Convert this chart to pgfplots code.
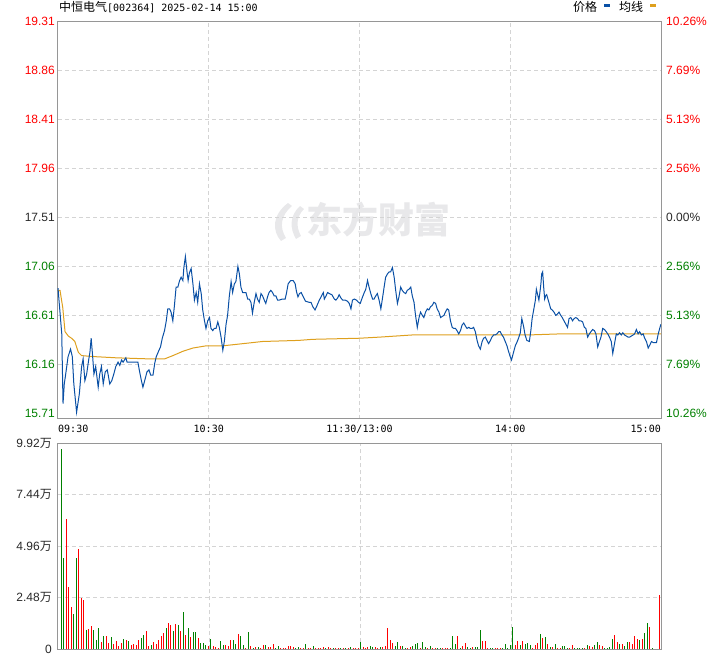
\documentclass[border=0pt]{standalone}
\usepackage{pgfplots}
\pgfplotsset{compat=1.18}
\usepackage{fontspec}
\setmainfont{Liberation Sans}
\newfontfamily\cjk{Noto Sans CJK SC}
\newfontfamily\mono{DejaVu Sans Mono}
\definecolor{pblue}{RGB}{10,80,165}
\definecolor{avgc}{RGB}{222,160,30}
\definecolor{upred}{RGB}{255,0,0}
\definecolor{dngreen}{RGB}{0,128,0}
\definecolor{axgray}{RGB}{150,150,150}
\definecolor{gridc}{RGB}{212,212,212}
\definecolor{wm}{RGB}{232,232,234}
\definecolor{lbl}{RGB}{40,40,40}
\begin{document}
\begin{tikzpicture}
\path[use as bounding box] (0pt,0pt) rectangle (720pt,655pt);
% watermark
\fill[wm] (288pt,452pt) .. controls (272pt,440pt) and (272pt,424pt) .. (281pt,414pt) -- (286pt,417pt) .. controls (279pt,428pt) and (281pt,440pt) .. (292pt,449pt) -- cycle;
\fill[wm] (300pt,449pt) .. controls (289pt,439pt) and (290pt,426pt) .. (296pt,416pt) -- (301pt,419pt) .. controls (296pt,428pt) and (296pt,438pt) .. (304pt,446pt) -- cycle;
\node[anchor=west, text=wm, font=\fontsize{36}{36}\selectfont\cjk\bfseries, inner sep=0] at (306pt,435pt) {东方财富};
% title and legend
\node[anchor=base west, inner sep=0, text=black] at (59pt,643pt) {{\fontsize{12}{14}\selectfont\cjk 中恒电气}{\fontsize{10}{12}\selectfont\mono [002364] 2025-02-14 15:00}};
\node[anchor=base west, inner sep=0, font=\fontsize{12}{14}\selectfont\cjk] at (573pt,643pt) {价格};
\fill[pblue] (604pt,648.3pt) rectangle (610pt,650.5pt);
\node[anchor=base west, inner sep=0, font=\fontsize{12}{14}\selectfont\cjk] at (619pt,643pt) {均线};
\fill[avgc] (650pt,648.3pt) rectangle (656pt,650.5pt);

% ---------- price panel ----------
\begin{axis}[
  at={(58pt,236pt)}, anchor=south west, scale only axis,
  width=603pt, height=397.5pt,
  xmin=0, xmax=240, ymin=15.658, ymax=19.31,
  axis line style={axgray, line width=1pt},
  xtick={60,120,180}, xticklabels={},
  ytick={16.16,16.61,17.06,17.51,17.96,18.41,18.86,19.31},
  yticklabels={\textcolor{dngreen}{16.16},\textcolor{dngreen}{16.61},\textcolor{dngreen}{17.06},\textcolor{lbl}{17.51},\textcolor{upred}{17.96},\textcolor{upred}{18.41},\textcolor{upred}{18.86},\textcolor{upred}{19.31}},
  extra y ticks={15.71}, extra y tick labels={\textcolor{dngreen}{15.71}},
  extra y tick style={grid=none},
  major tick length=0pt,
  grid=major, grid style={gridc, dash pattern=on 4pt off 3pt, line width=0.9pt},
  yticklabel style={font=\fontsize{12}{14}\selectfont, inner sep=0pt, xshift=-3pt},
  clip=false,
]
\addplot[avgc, line width=1pt] coordinates {
(0,16.84)(0.8,16.84)(1.9,16.68)(2.8,16.46)(4.1,16.42)(5.4,16.40)(6.7,16.37)(8.1,16.27)(9.4,16.24)
(15.3,16.23)(23.3,16.22)(36.5,16.21)(42.4,16.21)(45.7,16.24)(49.7,16.28)(53.7,16.31)(58.9,16.33)
(65.5,16.33)(73.5,16.35)(81.4,16.37)(95.7,16.38)(101.4,16.39)(120,16.40)(127.8,16.41)(134.4,16.42)
(141,16.43)(160,16.43)(187,16.43)(200,16.44)(240,16.44)};
\addplot[pblue, line width=1pt] coordinates {
(0,16.86)(1.5,16.44)(2,15.80)(2.5,15.98)(3,16.06)(4,16.23)(5,16.30)(5.7,16.23)(6.3,15.98)(7.4,15.72)
(8.5,15.89)(9.4,16.14)(10,16.21)(10.7,16.01)(11.4,16.07)(12.2,16.20)(12.7,16.27)(13.2,16.40)(13.7,16.26)
(14.3,16.07)(15,16.14)(16,15.95)(16.6,16.07)(17.3,16.14)(18,15.98)(18.8,16.09)(19.6,16.11)(20,16.06)
(20.6,15.98)(21.4,16.01)(22.2,16.07)(23,16.14)(23.9,16.18)(24.6,16.15)(25.3,16.20)(25.9,16.18)(27,16.22)
(27.5,16.18)(28.5,16.18)(30.5,16.18)(31.8,16.18)(32.5,16.09)(33.2,16.01)(33.8,15.95)(34.5,16.01)
(35.4,16.09)(36.2,16.11)(36.9,16.06)(37.8,16.06)(38.5,16.17)(39.1,16.23)(40.2,16.29)(40.8,16.32)
(41.5,16.40)(42.4,16.47)(43.1,16.56)(43.7,16.67)(44.4,16.67)(45,16.64)(45.7,16.56)(46.3,16.69)(47,16.87)
(47.7,16.87)(48.4,16.93)(49,16.96)(49.7,16.93)(50.1,17.05)(50.7,17.15)(51.3,17.02)(51.8,16.93)(52.3,17.00)
(53,17.04)(53.7,16.90)(54.3,16.75)(55,16.82)(55.6,16.73)(56.3,16.90)(57,16.81)(57.6,16.66)(58.3,16.56)
(58.9,16.49)(59.6,16.56)(60.3,16.59)(60.9,16.49)(61.6,16.47)(62.2,16.49)(62.9,16.49)(63.6,16.55)
(64.2,16.50)(64.9,16.41)(65.6,16.29)(66.2,16.37)(66.9,16.53)(67.5,16.61)(68.2,16.79)(68.9,16.92)
(69.5,16.82)(70.2,16.90)(70.8,16.92)(71.6,17.06)(72.2,16.99)(72.8,16.87)(73.5,16.82)(74.1,16.82)
(74.8,16.82)(75.5,16.76)(76.1,16.76)(76.8,16.73)(77.4,16.63)(78.1,16.73)(78.8,16.81)(79.4,16.76)
(80.1,16.73)(80.8,16.81)(81.4,16.79)(82.1,16.75)(82.7,16.72)(83.4,16.78)(84,16.82)(84.7,16.84)
(85.4,16.82)(86,16.79)(86.7,16.79)(87.4,16.75)(88,16.75)(89.3,16.76)(90.4,16.76)(90.9,16.81)
(91.6,16.90)(92.6,16.93)(93.6,16.93)(94.4,16.90)(94.9,16.83)(95.5,16.78)(96.1,16.81)(96.8,16.82)
(97.4,16.79)(98.5,16.74)(100,16.73)(100.7,16.73)(101.4,16.69)(102.3,16.66)(102.9,16.69)(104,16.75)
(104.7,16.78)(105.6,16.82)(106,16.76)(106.7,16.79)(107.3,16.82)(108,16.81)(109,16.80)(110,16.76)
(110.6,16.75)(111.3,16.77)(111.9,16.80)(112.6,16.77)(113.3,16.75)(114.3,16.75)(115.2,16.74)
(115.9,16.72)(116.6,16.67)(117.2,16.75)(117.9,16.76)(118.8,16.75)(119.6,16.73)(120.3,16.72)
(120.9,16.76)(121.9,16.82)(122.5,16.85)(123.2,16.93)(123.8,16.87)(124.5,16.81)(125.2,16.76)
(125.8,16.76)(126.5,16.79)(127.1,16.81)(127.8,16.75)(128.5,16.67)(129.1,16.76)(129.8,16.87)
(130.4,16.96)(131.1,16.99)(131.8,17.01)(132.4,17.01)(133.1,17.05)(133.8,16.96)(134.4,16.84)
(135.1,16.72)(135.7,16.78)(136.4,16.87)(137,16.84)(137.7,16.82)(138.4,16.81)(139,16.84)(139.7,16.85)
(140.4,16.87)(141,16.79)(141.7,16.73)(142.3,16.61)(143,16.50)(143.7,16.59)(144.3,16.64)(145,16.61)
(145.6,16.59)(146.3,16.64)(147,16.67)(147.6,16.66)(148.3,16.69)(148.9,16.70)(149.6,16.73)(150.3,16.72)
(150.9,16.67)(151.6,16.64)(152.3,16.59)(152.9,16.60)(153.6,16.61)(154.2,16.64)(154.9,16.67)
(155.5,16.66)(156.2,16.56)(156.9,16.50)(157.5,16.49)(158.2,16.49)(158.8,16.47)(159.5,16.44)
(160.2,16.47)(160.8,16.52)(161.5,16.54)(162.2,16.51)(162.8,16.49)(163.5,16.50)(164.1,16.49)
(164.8,16.49)(165.4,16.50)(166.1,16.46)(166.8,16.38)(167.4,16.33)(168.1,16.30)(168.8,16.37)
(169.4,16.40)(170.1,16.41)(170.7,16.38)(171.4,16.35)(172.1,16.38)(172.7,16.41)(173.4,16.43)(174,16.43)
(174.7,16.44)(175.4,16.46)(176,16.46)(176.7,16.43)(177.3,16.41)(178,16.37)(178.7,16.33)(179.3,16.28)
(180,16.23)(180.5,16.20)(181.3,16.27)(182,16.33)(182.6,16.36)(183.3,16.40)(184,16.45)(184.6,16.58)
(185.3,16.51)(185.9,16.43)(186.6,16.38)(187.6,16.37)(188.2,16.47)(188.7,16.58)(189.4,16.67)(190,16.75)
(190.4,16.85)(191,16.79)(191.4,16.75)(191.8,16.82)(192.2,16.90)(192.5,16.99)(192.9,17.01)(193.3,16.87)
(193.7,16.76)(194.1,16.79)(194.5,16.80)(195,16.76)(195.5,16.72)(196.1,16.67)(196.7,16.66)(197.4,16.64)
(198.1,16.61)(198.7,16.62)(199.4,16.64)(200.1,16.61)(200.7,16.59)(201.4,16.56)(202.1,16.53)
(202.8,16.50)(203.4,16.58)(204.1,16.59)(204.8,16.56)(205.4,16.58)(206.1,16.59)(206.8,16.58)
(207.4,16.56)(208.1,16.56)(208.8,16.55)(209.5,16.50)(210.1,16.49)(210.8,16.41)(211.5,16.44)
(212.1,16.46)(212.8,16.48)(213.5,16.47)(214.1,16.44)(214.8,16.32)(215.5,16.37)(216.1,16.41)
(216.8,16.49)(217.5,16.48)(218.2,16.46)(218.8,16.44)(219.5,16.41)(220.2,16.37)(220.8,16.26)
(221.5,16.35)(222.2,16.44)(222.8,16.43)(223.5,16.45)(224.2,16.43)(224.8,16.45)(225.5,16.43)
(226.2,16.42)(226.9,16.41)(227.5,16.41)(228.2,16.42)(228.9,16.43)(229.5,16.44)(230.2,16.48)
(230.9,16.44)(231.5,16.46)(232.2,16.43)(232.9,16.44)(233.5,16.40)(234.2,16.37)(234.9,16.31)
(235.6,16.34)(236.2,16.37)(236.9,16.36)(237.6,16.36)(238.2,16.36)(238.9,16.44)(239.6,16.50)(240,16.53)};
\node[anchor=base west, inner sep=0, font=\fontsize{10}{12}\selectfont\mono, yshift=-14pt] at (axis cs:0,15.658) {09:30};
\node[anchor=base, inner sep=0, font=\fontsize{10}{12}\selectfont\mono, yshift=-14pt] at (axis cs:60,15.658) {10:30};
\node[anchor=base, inner sep=0, font=\fontsize{10}{12}\selectfont\mono, yshift=-14pt] at (axis cs:120,15.658) {11:30/13:00};
\node[anchor=base, inner sep=0, font=\fontsize{10}{12}\selectfont\mono, yshift=-14pt] at (axis cs:180,15.658) {14:00};
\node[anchor=base east, inner sep=0, font=\fontsize{10}{12}\selectfont\mono, yshift=-14pt] at (axis cs:240,15.658) {15:00};
\end{axis}

% right percentage axis
\begin{axis}[
  at={(58pt,236pt)}, anchor=south west, scale only axis,
  width=603pt, height=397.5pt,
  xmin=0, xmax=240, ymin=15.658, ymax=19.31,
  axis y line*=right, axis x line=none,
  axis line style={axgray, line width=1pt},
  ytick={16.16,16.61,17.06,17.51,17.96,18.41,18.86,19.31},
  yticklabels={\textcolor{dngreen}{7.69\%},\textcolor{dngreen}{5.13\%},\textcolor{dngreen}{2.56\%},\textcolor{lbl}{0.00\%},\textcolor{upred}{2.56\%},\textcolor{upred}{5.13\%},\textcolor{upred}{7.69\%},\textcolor{upred}{10.26\%}},
  extra y ticks={15.71}, extra y tick labels={\textcolor{dngreen}{10.26\%}},
  major tick length=0pt,
  yticklabel style={font=\fontsize{12}{14}\selectfont, inner sep=0pt, xshift=5pt},
]
\end{axis}

% ---------- volume panel ----------
\begin{axis}[
  at={(58pt,5.7pt)}, anchor=south west, scale only axis,
  width=603pt, height=206pt,
  xmin=-1.31, xmax=240.5, ymin=0, ymax=9.92,
  axis line style={axgray, line width=1pt},
  xtick={59.36,119.9,180.6}, xticklabels={},
  ytick={0,2.48,4.96,7.44,9.92},
  yticklabels={0,2.48{\cjk 万},4.96{\cjk 万},7.44{\cjk 万},9.92{\cjk 万}},
  major tick length=0pt,
  grid=major, grid style={gridc, dash pattern=on 4pt off 3pt, line width=0.9pt},
  yticklabel style={font=\fontsize{12}{14}\selectfont, text=lbl, inner sep=0pt, xshift=-6pt},
]
\addplot[ycomb, upred, line width=1pt] coordinates {
(2,6.28)(3,3.02)(4,2.04)(7,4.85)(8,2.47)(9,2.38)(11,0.98)(12,1.12)(16,0.35)(18,0.64)(19,0.29)(21,0.26)
(22,0.40)(23,0.16)(24,0.29)(26,0.45)(28,0.21)(29,0.26)(30,0.21)(31,0.45)(34,0.87)(35,0.16)(37,0.35)
(38,0.27)(39,0.45)(40,0.64)(41,0.79)(43,1.27)(44,1.17)(46,1.22)(48,0.88)(50,0.69)(52,0.59)(55,0.55)
(59,0.16)(61,0.16)(62,0.11)(63,0.06)(66,0.21)(67,0.16)(68,0.45)(71,0.74)(74,0.05)(76,0.16)(78,0.10)
(80,0.06)(81,0.21)(83,0.11)(84,0.11)(85,0.26)(88,0.06)(89,0.06)(90,0.06)(91,0.16)(92,0.16)(93,0.11)
(96,0.06)(97,0.06)(99,0.06)(100,0.06)(102,0.06)(103,0.06)(104,0.06)(105,0.11)(107,0.11)(108,0.06)
(110,0.06)(111,0.06)(113,0.08)(115,0.06)(117,0.06)(118,0.08)(119,0.06)(121,0.11)(122,0.06)(123,0.11)
(126,0.11)(127,0.06)(129,0.11)(130,0.16)(131,1.03)(132,0.45)(133,0.30)(136,0.16)(139,0.06)(140,0.11)
(144,0.06)(147,0.06)(149,0.06)(150,0.06)(153,0.06)(154,0.06)(155,0.06)(159,0.64)(161,0.16)(162,0.30)
(165,0.11)(169,0.40)(170,0.40)(171,0.06)(174,0.06)(175,0.06)(176,0.06)(182,0.21)(183,0.40)(185,0.40)
(189,0.06)(190,0.21)(191,0.30)(193,0.55)(195,0.26)(197,0.11)(199,0.06)(200,0.06)(204,0.06)(205,0.21)
(210,0.06)(212,0.16)(213,0.11)(216,0.21)(217,0.16)(222,0.69)(223,0.35)(225,0.26)(228,0.35)(229,0.26)
(230,0.64)(231,0.50)(233,0.50)(236,1.08)(240,2.62)};
\addplot[ycomb, dngreen, line width=1pt] coordinates {
(0,9.65)(1,4.41)(5,1.72)(6,4.41)(10,0.93)(13,0.93)(14,0.45)(15,1.03)(17,0.64)(20,0.59)(25,0.48)(27,0.39)
(32,0.55)(33,0.67)(36,0.21)(42,1.03)(45,0.88)(47,1.17)(49,1.80)(51,1.03)(53,0.83)(54,0.83)(56,0.30)
(57,0.30)(58,0.21)(60,0.50)(64,0.40)(65,0.21)(69,0.45)(70,0.26)(72,0.64)(73,0.21)(75,0.83)(77,0.06)
(79,0.11)(82,0.21)(86,0.06)(87,0.16)(94,0.06)(95,0.11)(98,0.26)(101,0.16)(106,0.06)(109,0.08)(112,0.06)
(114,0.06)(116,0.11)(120,0.35)(124,0.16)(125,0.11)(128,0.11)(134,0.16)(135,0.35)(137,0.16)(138,0.06)
(141,0.16)(142,0.26)(143,0.30)(145,0.35)(146,0.11)(148,0.16)(151,0.06)(152,0.06)(156,0.06)(157,0.64)
(158,0.26)(160,0.06)(163,0.11)(164,0.06)(166,0.11)(167,0.11)(168,0.93)(172,0.06)(173,0.06)(177,0.06)
(178,0.26)(179,0.06)(180,0.21)(181,1.08)(184,0.21)(186,0.26)(187,0.30)(188,0.21)(192,0.74)(194,0.59)
(196,0.11)(198,0.26)(201,0.16)(202,0.16)(203,0.06)(206,0.06)(207,0.06)(208,0.06)(209,0.06)(211,0.21)
(214,0.21)(215,0.35)(218,0.06)(219,0.06)(220,0.11)(221,0.50)(224,0.26)(226,0.16)(227,0.35)(232,0.45)
(234,0.79)(235,1.27)(237,0.06)};
\end{axis}
\end{tikzpicture}
\end{document}
